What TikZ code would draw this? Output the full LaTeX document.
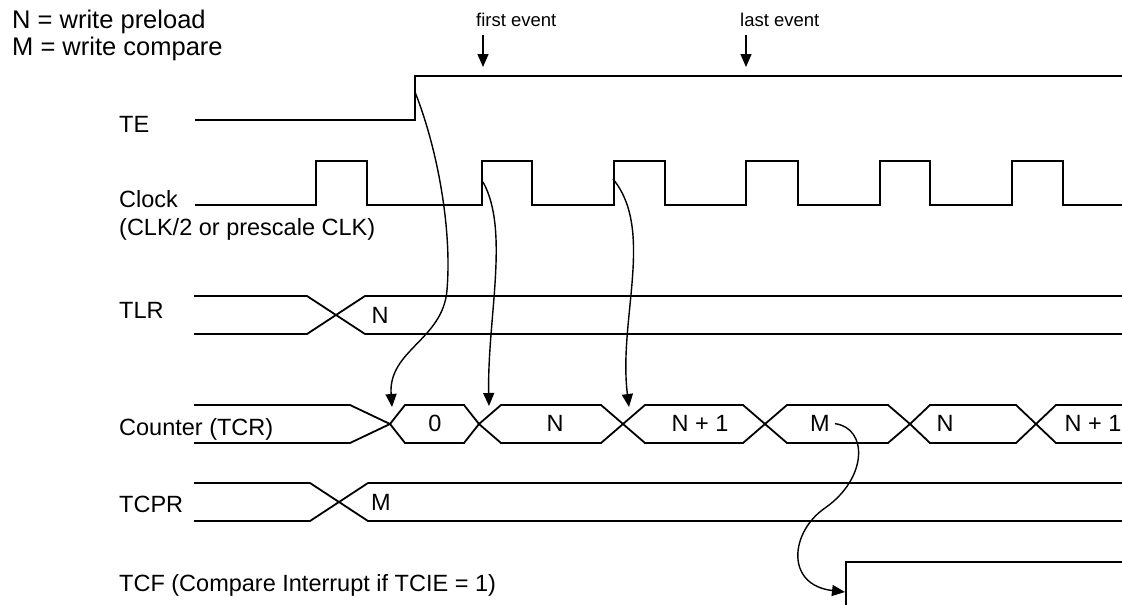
\documentclass[tikz,border=0pt]{standalone}
\usepackage{fontspec}
\setmainfont{Liberation Sans}
\usetikzlibrary{arrows.meta}

\tikzset{
  lbl/.style={anchor=base west, inner sep=0pt, font=\fontsize{23.5}{28}\selectfont},
  keytext/.style={lbl, font=\fontsize{25.5}{30}\selectfont},
  evt/.style={lbl, font=\fontsize{18.5}{22}\selectfont},
  val/.style={inner sep=0pt, font=\fontsize{23.5}{28}\selectfont},
  wave/.style={line width=2pt, line join=miter},
  bus/.style={line width=1.8pt, line join=miter},
  cue/.style={line width=1.4pt, ->},
}

\begin{document}
\begin{tikzpicture}[x=1pt, y=-1pt, >={Triangle[length=13pt,width=11pt]}]
  \useasboundingbox (0,0) rectangle (1122,605);

  % key and events
  \node[keytext] (keyN) at (12,28) {N = write preload};
  \node[keytext] (keyM) at (12,55) {M = write compare};
  \node[evt] (first) at (476,27) {first event};
  \node[evt] (last) at (740,27) {last event};
  \coordinate (firsttop) at (483,35);
  \coordinate (firsttip) at (483,67);
  \coordinate (lasttop) at (746,35);
  \coordinate (lasttip) at (746,67);
  \draw[cue] (firsttop) -- (firsttip);
  \draw[cue] (lasttop) -- (lasttip);

  % signal names
  \node[lbl] (te) at (119,132) {TE};
  \node[lbl] (clk) at (119,207) {Clock};
  \node[lbl] (clksrc) at (119,235) {(CLK/2 or prescale CLK)};
  \node[lbl] (tlr) at (119,318) {TLR};
  \node[lbl] (tcr) at (119,435) {Counter (TCR)};
  \node[lbl] (tcpr) at (119,512) {TCPR};
  \node[lbl] (tcf) at (119,591) {TCF (Compare Interrupt if TCIE = 1)};

  % TE and clock
  \draw[wave] (195,120) -- (415,120) -- (415,75.5) -- (1122,75.5);
  \draw[wave] (195,205) \foreach \r/\f in {316/367, 482/532, 614/665, 746/798, 880/930, 1012/1063} { -- (\r,205) -- (\r,161) -- (\f,161) -- (\f,205) } -- (1122,205);

  % TLR
  \draw[bus] (194,296) -- (307,296) -- (365,334) -- (1122,334);
  \draw[bus] (194,334) -- (307,334) -- (365,296) -- (1122,296);
  \node[val] (tlrN) at (380,315) {N};

  % counter
  \draw[bus] (194,405) -- (350,405) -- (390,424) -- (350,443) -- (194,443);
  \foreach \a/\b/\s in {390/479/15, 479/623/22, 623/765/22, 765/910/22, 910/1036/20}
    \draw[bus] (\a,424) -- (\a+\s,405) -- (\b-\s,405) -- (\b,424) -- (\b-\s,443) -- (\a+\s,443) -- cycle;
  \draw[bus] (1122,405) -- (1056,405) -- (1036,424) -- (1056,443) -- (1122,443);
  \node[val] (cnt0) at (435,423) {0};
  \node[val] (cntN) at (555,423) {N};
  \node[val] (cntN1) at (700,423) {N + 1};
  \node[val] (cntM) at (820,423) {M};
  \node[val] (cntN2) at (945,423) {N};
  \node[val] (cntN3) at (1093,423) {N + 1};

  % TCPR
  \draw[bus] (194,483) -- (310,483) -- (368,521) -- (1122,521);
  \draw[bus] (194,521) -- (310,521) -- (368,483) -- (1122,483);
  \node[val] (tcprM) at (381,502) {M};

  % TCF
  \draw[wave] (846,605) -- (846,562) -- (1122,562);

  % cause and effect
  \coordinate (teup) at (415,92);
  \coordinate (clkup1) at (483,182);
  \coordinate (clkup2) at (613,179);
  \coordinate (cnt0tip) at (392,407);
  \coordinate (cntNtip) at (489,406);
  \coordinate (cntN1tip) at (629,407);
  \coordinate (tcfup) at (845,592);
  \draw[cue] (teup) .. controls (438,150) and (452,230) .. (447,290) .. controls (443,340) and (388,350) .. (cnt0tip);
  \draw[cue] (clkup1) .. controls (510,230) and (487,320) .. (cntNtip);
  \draw[cue] (clkup2) .. controls (655,230) and (618,320) .. (cntN1tip);
  \draw[cue, shorten <=5pt] (cntM.east) .. controls (868,428) and (868,478) .. (825,508) .. controls (790,532) and (785,585) .. (tcfup);
\end{tikzpicture}
\end{document}
